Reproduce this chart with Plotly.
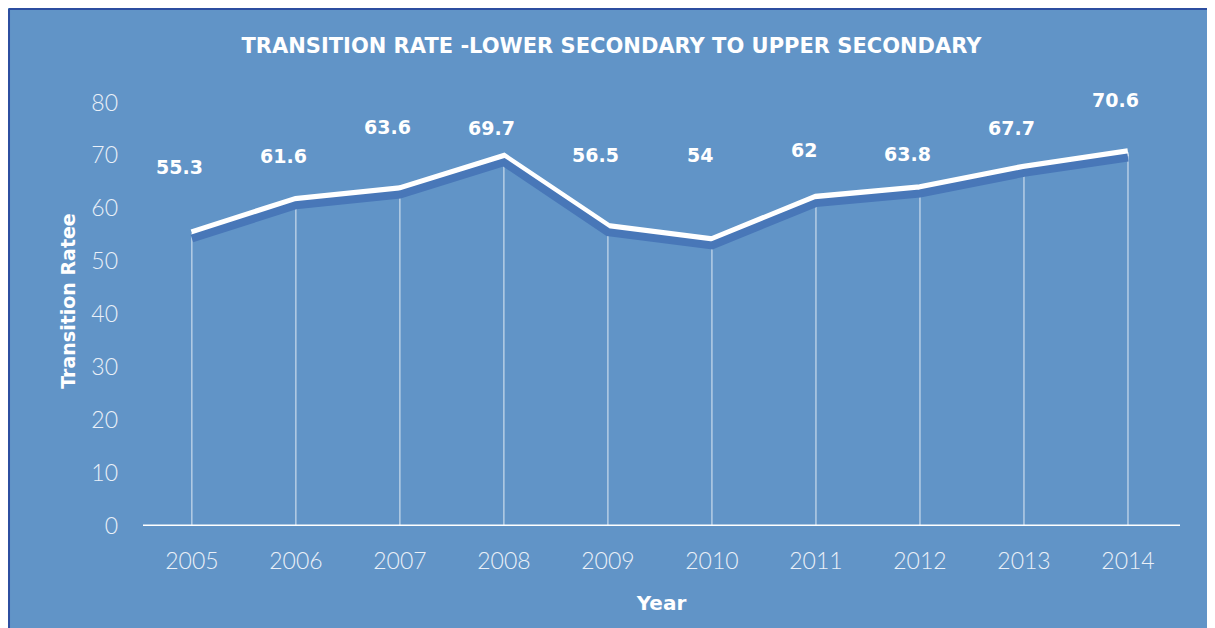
import plotly.graph_objects as go

years = [2005, 2006, 2007, 2008, 2009, 2010, 2011, 2012, 2013, 2014]
rates = [55.3, 61.6, 63.6, 69.7, 56.5, 54, 62, 63.8, 67.7, 70.6]
y_ticks = [0, 10, 20, 30, 40, 50, 60, 70, 80]

# pixel offsets of the value labels above each point (they are staggered in the original)
label_shift = [66, 44, 62, 29, 72, 85, 48, 34, 40, 52]

bg_blue = '#6194c7'
shadow_blue = '#4877b8'
border_blue = '#2c4ea0'
bold_font = 'DejaVu Sans'

fig = go.Figure()

# drop lines from each point down to the axis
fig.add_trace(go.Scatter(
    x=years, y=rates, mode='markers',
    marker=dict(size=1, color='rgba(0,0,0,0)'),
    error_y=dict(type='data', symmetric=False, array=[0] * len(rates), arrayminus=rates,
                 width=0, thickness=1, color='rgba(255,255,255,0.8)'),
    hoverinfo='skip', showlegend=False
))

# shadow of the line, drawn on a shifted overlay axis
fig.add_trace(go.Scatter(
    x=years, y=rates, mode='lines', yaxis='y2',
    line=dict(color=shadow_blue, width=8),
    hoverinfo='skip', showlegend=False
))

fig.add_trace(go.Scatter(
    x=years, y=rates, mode='lines',
    line=dict(color='white', width=8),
    showlegend=False
))

for yr, v, s in zip(years, rates, label_shift):
    fig.add_annotation(
        x=yr, y=v, text=str(v), showarrow=False, yshift=s, xshift=-12,
        font=dict(family=bold_font, size=19, color='white', weight='bold')
    )

fig.update_layout(
    width=1207, height=620,
    margin=dict(l=135, r=35, t=68, b=102),
    paper_bgcolor=bg_blue,
    plot_bgcolor='rgba(0,0,0,0)',
    title=dict(text='TRANSITION RATE -LOWER SECONDARY TO UPPER SECONDARY',
               x=0.5, xanchor='center', y=0.94, yanchor='middle',
               font=dict(family=bold_font, size=21, color='white', weight='bold')),
    xaxis=dict(range=[2004.53, 2014.5], tickvals=years, ticktext=[str(y) for y in years],
               showgrid=False, zeroline=False, showline=False, ticks='',
               ticklabelstandoff=19,
               tickfont=dict(family='Lato', size=23, color='#eaf0f8', weight=300),
               title=dict(text='Year', standoff=22,
                          font=dict(family=bold_font, size=20, color='white', weight='bold'))),
    yaxis=dict(range=[0, 85], tickvals=y_ticks, showgrid=False, zeroline=False,
               showline=False, ticks='', ticklabelstandoff=24,
               tickfont=dict(family='Lato', size=23, color='#eaf0f8', weight=300),
               title=dict(text='Transition Ratee', standoff=10,
                          font=dict(family=bold_font, size=19, color='white', weight='bold'))),
    yaxis2=dict(range=[1.0, 86], overlaying='y', visible=False),
    shapes=[
        dict(type='line', xref='paper', yref='paper', x0=-0.1292, x1=-0.1292, y0=-0.3, y1=1.1489,
             line=dict(color=border_blue, width=2), layer='below'),
        dict(type='line', xref='paper', yref='paper', x0=-0.1292, x1=1.1, y0=1.1489, y1=1.1489,
             line=dict(color=border_blue, width=2), layer='below'),
        dict(type='line', xref='paper', yref='y', x0=0, x1=1, y0=0, y1=0,
             line=dict(color='white', width=3), layer='above'),
    ],
)

fig.write_html("out.html")
